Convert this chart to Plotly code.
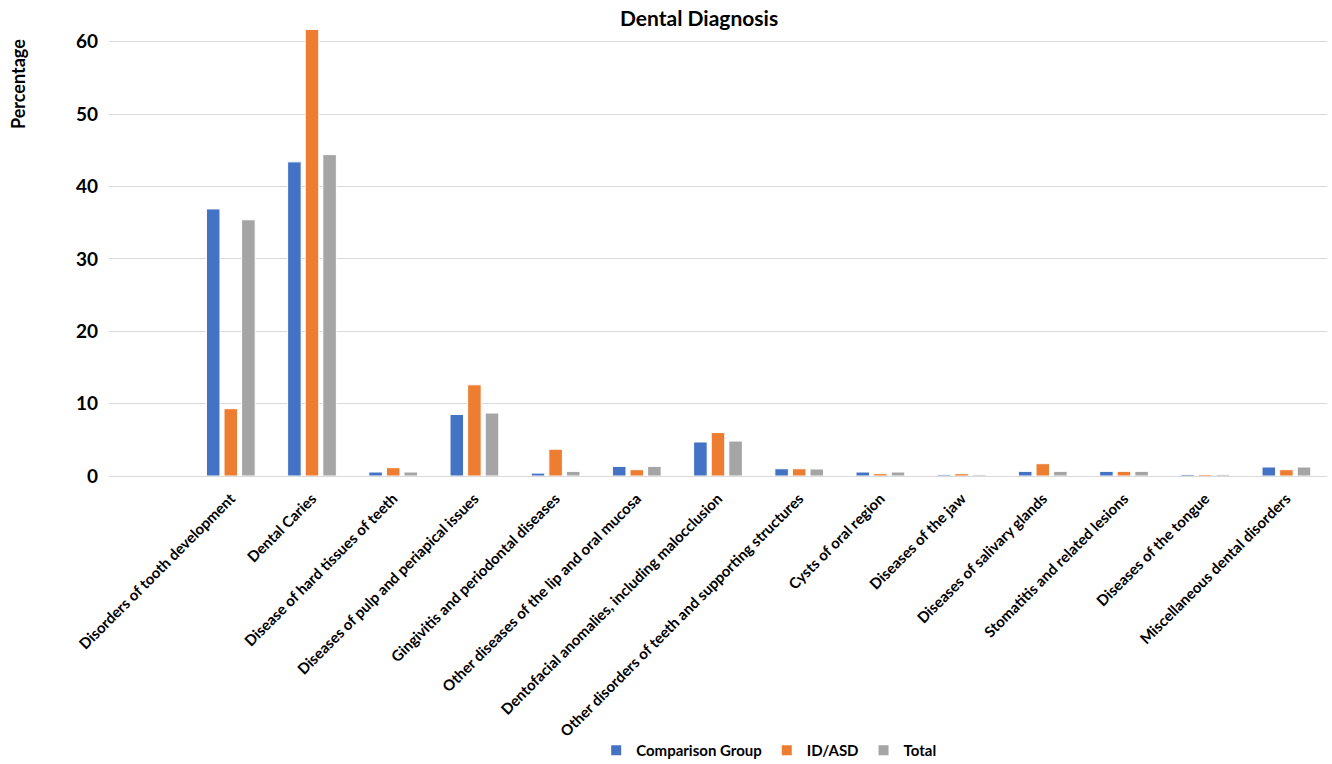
import plotly.graph_objects as go

categories = [
    "Disorders of tooth development",
    "Dental Caries",
    "Disease of hard tissues of teeth",
    "Diseases of pulp and periapical issues",
    "Gingivitis and periodontal diseases",
    "Other diseases of the lip and oral mucosa",
    "Dentofacial anomalies, including malocclusion",
    "Other disorders of teeth and supporting structures",
    "Cysts of oral region",
    "Diseases of the jaw",
    "Diseases of salivary glands",
    "Stomatitis and related lesions",
    "Diseases of the tongue",
    "Miscellaneous dental disorders",
]
comparison = [36.9, 43.4, 0.55, 8.5, 0.4, 1.33, 4.7, 1.0, 0.55, 0.18, 0.64, 0.64, 0.22, 1.24]
id_asd = [9.3, 61.7, 1.15, 12.6, 3.7, 0.87, 6.0, 1.0, 0.32, 0.32, 1.7, 0.64, 0.22, 0.87]
total = [35.4, 44.4, 0.55, 8.7, 0.64, 1.33, 4.83, 0.97, 0.55, 0.18, 0.64, 0.64, 0.22, 1.24]
y_ticks = [0, 10, 20, 30, 40, 50, 60]

FONT = "Lato"
series = [
    ("Comparison Group", comparison, "#4472C4"),
    ("ID/ASD", id_asd, "#ED7D31"),
    ("Total", total, "#A5A5A5"),
]

fig = go.Figure()
for name, vals, color in series:
    fig.add_trace(go.Bar(
        x=categories, y=vals, name=name,
        marker=dict(color=color, line=dict(color="white", width=1)),
    ))

fig.update_layout(
    width=1332, height=764,
    margin=dict(l=109, r=5, t=20, b=288, autoexpand=False),
    paper_bgcolor="white", plot_bgcolor="white",
    barmode="group", bargap=0.35, bargroupgap=0.23,
    font=dict(family=FONT, color="#000000"),
    showlegend=True,
    legend=dict(
        orientation="h", x=0.4, xanchor="left", y=-0.602, yanchor="middle",
        font=dict(family=FONT, size=15, weight="bold", color="#000"),
        itemsizing="constant", traceorder="normal",
    ),
    xaxis=dict(
        type="category", range=[-1.5, 13.5], tickangle=-45, automargin=False,
        tickfont=dict(family=FONT, size=15, weight="bold", color="#000"),
        showgrid=False, showline=False, ticks="", zeroline=False,
        ticklabelstandoff=10,
    ),
    yaxis=dict(
        range=[0, 63], tickvals=y_ticks, automargin=False,
        tickfont=dict(family=FONT, size=19, weight="bold", color="#000"),
        showgrid=True, gridcolor="#D9D9D9", gridwidth=1.3,
        zeroline=True, zerolinecolor="#D9D9D9", zerolinewidth=1.3,
        showline=False, ticks="", ticklabelstandoff=10,
    ),
    annotations=[
        dict(text="Dental Diagnosis", xref="paper", yref="paper",
             x=(699 - 109) / 1218, y=(476.3 - 17) / 456.3,
             xanchor="center", yanchor="middle", showarrow=False,
             font=dict(family=FONT, size=21, weight="bold", color="#000")),
        dict(text="Percentage", xref="paper", yref="paper",
             x=(18 - 109) / 1218, y=(476.3 - 84) / 456.3,
             xanchor="center", yanchor="middle", showarrow=False, textangle=-90,
             font=dict(family=FONT, size=18, weight="bold", color="#000")),
    ],
)

fig.write_html("out.html")
